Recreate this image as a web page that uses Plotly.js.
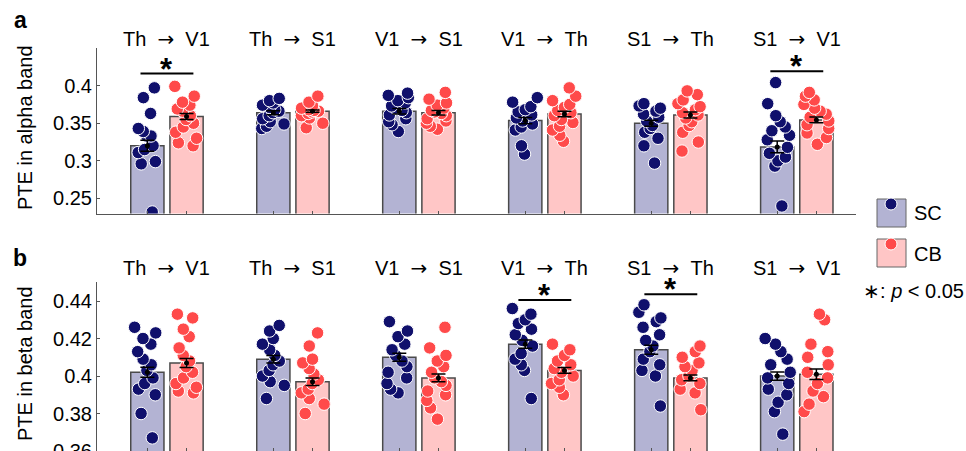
<!DOCTYPE html>
<html><head><meta charset="utf-8">
<script src="https://cdn.plot.ly/plotly-3.0.1.min.js"></script>
<style>html,body{margin:0;padding:0;overflow:hidden;background:#fff}#chart{width:966px;height:500px}</style>
</head><body><div id="chart"></div>
<script>
// ---------- data ----------
const pathwayFrom = ['Th','Th','V1','V1','S1','S1'];
const pathwayTo   = ['V1','S1','S1','Th','Th','V1'];
const groupIdx = [1,2,3,4,5,6];

const alphaMeanSC = [0.320,0.364,0.366,0.3535,0.350,0.3185];
const alphaSemSC  = [0.0073,0.0027,0.0036,0.0042,0.0040,0.0078];
const alphaMeanCB = [0.359,0.366,0.364,0.3623,0.361,0.3544];
const alphaSemCB  = [0.0040,0.0015,0.0030,0.0036,0.0040,0.0038];

const alphaSC = [
  [0.397,0.384,0.363,0.343,0.339,0.333,0.333,0.320,0.315,0.311,0.299,0.296,0.232],
  [0.383,0.380,0.377,0.374,0.371,0.368,0.366,0.364,0.360,0.356,0.352,0.349,0.346,0.343],
  [0.390,0.387,0.384,0.380,0.377,0.373,0.370,0.367,0.364,0.361,0.356,0.352,0.348,0.339],
  [0.384,0.378,0.372,0.368,0.365,0.361,0.357,0.353,0.349,0.345,0.341,0.320,0.309],
  [0.376,0.373,0.370,0.366,0.362,0.358,0.353,0.347,0.343,0.338,0.330,0.320,0.297],
  [0.404,0.376,0.360,0.352,0.345,0.340,0.334,0.328,0.318,0.310,0.305,0.300,0.293,0.240]
];
const alphaCB = [
  [0.399,0.386,0.378,0.374,0.369,0.366,0.360,0.355,0.350,0.345,0.338,0.330,0.324,0.320],
  [0.386,0.378,0.373,0.370,0.368,0.367,0.366,0.365,0.363,0.360,0.357,0.350,0.344],
  [0.391,0.382,0.377,0.374,0.370,0.367,0.365,0.363,0.360,0.356,0.353,0.350,0.346,0.342],
  [0.397,0.386,0.380,0.375,0.371,0.367,0.364,0.360,0.355,0.351,0.346,0.341,0.334,0.326],
  [0.393,0.388,0.381,0.376,0.372,0.368,0.364,0.361,0.357,0.352,0.347,0.338,0.325,0.313],
  [0.391,0.386,0.381,0.375,0.370,0.366,0.362,0.358,0.353,0.348,0.343,0.337,0.331,0.322]
];

const betaMeanSC = [0.402,0.409,0.410,0.417,0.414,0.400];
const betaSemSC  = [0.0027,0.0020,0.0021,0.0022,0.0024,0.0022];
const betaMeanCB = [0.407,0.397,0.399,0.403,0.399,0.401];
const betaSemCB  = [0.0024,0.0020,0.0021,0.0015,0.0015,0.0028];

const betaSC = [
  [0.426,0.423,0.420,0.417,0.413,0.409,0.406,0.403,0.399,0.396,0.393,0.390,0.380,0.367],
  [0.427,0.424,0.420,0.417,0.414,0.411,0.408,0.406,0.403,0.400,0.397,0.395,0.388],
  [0.429,0.424,0.421,0.417,0.414,0.411,0.408,0.405,0.402,0.399,0.396,0.393,0.391],
  [0.436,0.433,0.430,0.428,0.425,0.422,0.419,0.416,0.412,0.409,0.406,0.403,0.388],
  [0.438,0.434,0.431,0.429,0.426,0.422,0.419,0.416,0.413,0.409,0.406,0.403,0.400,0.384],
  [0.420,0.417,0.413,0.409,0.406,0.402,0.399,0.396,0.393,0.390,0.386,0.381,0.369]
];
const betaCB = [
  [0.433,0.431,0.425,0.421,0.415,0.411,0.408,0.405,0.402,0.399,0.396,0.394,0.392,0.391],
  [0.423,0.416,0.409,0.407,0.404,0.401,0.398,0.396,0.393,0.391,0.388,0.385,0.380],
  [0.426,0.415,0.411,0.408,0.405,0.402,0.399,0.397,0.395,0.392,0.390,0.387,0.383,0.377],
  [0.417,0.414,0.411,0.408,0.406,0.404,0.402,0.400,0.398,0.396,0.394,0.390],
  [0.416,0.413,0.410,0.407,0.405,0.403,0.400,0.398,0.396,0.393,0.391,0.382],
  [0.433,0.430,0.417,0.413,0.410,0.406,0.402,0.399,0.396,0.392,0.389,0.385,0.381]
];

const alphaSigGroups = [1,6];
const alphaSigY = [0.416,0.419];
const betaSigGroups = [4,5];
const betaSigY = [0.4405,0.4436];

const conditionNames = ['SC','CB'];
const alphaTicks = [0.25,0.3,0.35,0.4];
const alphaTickText = ['0.25','0.3','0.35','0.4'];
const betaTicks = [0.36,0.38,0.4,0.42,0.44];
const betaTickText = ['0.36','0.38','0.4','0.42','0.44'];

// ---------- styling ----------
const FONT = 'Liberation Sans, Arial, Helvetica, sans-serif';
const barFill = ['#b3b3d3','#ffc6c6'];
const dotFill = ['#10106c','#ff4a4a'];
const edge = '#4a4a4a';
const W = 966, H = 500, ML = 97, MR = 110, MT = 48, MB = 49;
const plotW = W - ML - MR, plotH = H - MT - MB;
const px = p => (p - ML) / plotW;
const py = p => (H - MB - p) / plotH;
const BAR_OFF = 0.1556;
const BAR_W = 0.264;
const offs = [-BAR_OFF, BAR_OFF];

const data = [];
function panel(xa, ya, means, sems, pts) {
  for (let c = 0; c < 2; c++) {
    data.push({type:'bar', x: groupIdx, y: means[c], xaxis: xa, yaxis: ya, name: conditionNames[c],
      marker:{color: barFill[c], line:{color: edge, width: 1.5}}, showlegend:false, hoverinfo:'skip'});
  }
  for (let c = 0; c < 2; c++) {
    const xs = [], ys = [];
    pts[c].forEach((arr, i) => arr.forEach(v => { xs.push(groupIdx[i] + offs[c]); ys.push(v); }));
    data.push({type:'box', x: xs, y: ys, xaxis: xa, yaxis: ya, name: conditionNames[c], width: BAR_W,
      boxpoints:'all', jitter:0.8, pointpos:0, fillcolor:'rgba(0,0,0,0)', line:{width:0, color:'rgba(0,0,0,0)'},
      whiskerwidth:0,
      marker:{color: dotFill[c], size: 12.5, line:{color:'#ffffff', width:1}}, showlegend:false, hoverinfo:'skip'});
  }
  for (let c = 0; c < 2; c++) {
    data.push({type:'scatter', mode:'markers', x: groupIdx, y: means[c], xaxis: xa, yaxis: ya, name: conditionNames[c],
      marker:{color:'#000', size:5},
      error_y:{type:'data', array: sems[c], color:'#000', thickness:1.5, width:7},
      showlegend:false, hoverinfo:'skip'});
  }
}
panel('x','y',[alphaMeanSC, alphaMeanCB],[alphaSemSC, alphaSemCB],[alphaSC, alphaCB]);
panel('x2','y2',[betaMeanSC, betaMeanCB],[betaSemSC, betaSemCB],[betaSC, betaCB]);

const xTicks = groupIdx.flatMap(g => offs.map(o => g + o));
const xRange = [0.4447, 6.47];
const axisCommon = {showline:true, linecolor:'#555', linewidth:1, ticks:'inside', ticklen:3, tickcolor:'#555',
  showgrid:false, zeroline:false, tickfont:{family:FONT, size:20, color:'#000'}};

const annotations = [];
const shapes = [];
const arrow = '<span style="font-family:DejaVu Sans">\u2192</span>';
groupIdx.forEach((g, i) => {
  const t = pathwayFrom[i] + '\u00a0\u00a0' + arrow + '\u00a0\u00a0' + pathwayTo[i];
  annotations.push({text:t, x: g, xref:'x', y: py(39.5), yref:'paper', xanchor:'center', yanchor:'middle', showarrow:false, font:{family:FONT,size:20,color:'#000'}});
  annotations.push({text:t, x: g, xref:'x2', y: py(267.5), yref:'paper', xanchor:'center', yanchor:'middle', showarrow:false, font:{family:FONT,size:20,color:'#000'}});
});
function sig(groups, ys, xr, yr) {
  groups.forEach((g, i) => {
    shapes.push({type:'line', xref:xr, yref:yr, x0: g - 0.21, x1: g + 0.21, y0: ys[i], y1: ys[i], line:{color:'#000', width:2}});
    annotations.push({text:'<b>*</b>', x: g, xref:xr, y: ys[i], yref:yr, showarrow:false, xanchor:'center', yanchor:'bottom', yshift:-15,
      font:{family:FONT, size:31, color:'#000'}});
  });
}
sig(alphaSigGroups, alphaSigY, 'x', 'y');
sig(betaSigGroups, betaSigY, 'x2', 'y2');

const lab = (text, x, y, extra) => Object.assign({text, x:px(x), y:py(y), xref:'paper', yref:'paper', xanchor:'center', yanchor:'middle', showarrow:false, font:{family:FONT,size:20,color:'#000'}}, extra || {});
annotations.push(lab('<b>a</b>', 20, 20, {font:{family:FONT,size:23,color:'#000'}}));
annotations.push(lab('<b>b</b>', 20, 258, {font:{family:FONT,size:23,color:'#000'}}));
annotations.push(lab('PTE in alpha band', 25, 128, {textangle:-90}));
annotations.push(lab('PTE in beta band', 25, 364, {textangle:-90}));

// legend
const legRows = [{top:199, dotY:204, textY:213}, {top:239, dotY:244, textY:254}];
legRows.forEach((r, c) => {
  shapes.push({type:'rect', xref:'paper', yref:'paper', x0:px(877), x1:px(906), y0:py(r.top+28), y1:py(r.top), fillcolor:barFill[c], line:{color:'#666', width:1}});
  shapes.push({type:'circle', xref:'paper', yref:'paper', x0:px(885), x1:px(897), y0:py(r.dotY+6), y1:py(r.dotY-6), fillcolor:dotFill[c], line:{color:'#fff', width:1}});
  annotations.push(lab(conditionNames[c], 912, r.textY, {xanchor:'left'}));
});
annotations.push(lab('\u2217: <i>p</i> < 0.05', 913, 291));

const layout = {
  width: W, height: H, margin:{l:ML, r:MR, t:MT, b:MB},
  paper_bgcolor:'#fff', plot_bgcolor:'#fff',
  barmode:'group', bargap:0.378, bargroupgap:0.152,
  boxmode:'overlay',
  scattermode:'group', scattergap:0.378,
  showlegend:false,
  xaxis: Object.assign({}, axisCommon, {domain:[0,1], anchor:'y', range:xRange, tickmode:'array', tickvals:xTicks, showticklabels:false}),
  yaxis: Object.assign({}, axisCommon, {domain:[py(213.5), 1], anchor:'x', range:[0.23,0.45], tickmode:'array', tickvals:alphaTicks, ticktext:alphaTickText}),
  xaxis2: Object.assign({}, axisCommon, {domain:[0,1], anchor:'y2', range:xRange, tickmode:'array', tickvals:xTicks, showticklabels:false}),
  yaxis2: Object.assign({}, axisCommon, {domain:[0, py(282.3)], anchor:'x2', range:[0.36,0.45], tickmode:'array', tickvals:betaTicks, ticktext:betaTickText}),
  annotations, shapes,
  font:{family:FONT, color:'#000'}
};
Plotly.newPlot('chart', data, layout, {displayModeBar:false, staticPlot:true});
</script></body></html>
